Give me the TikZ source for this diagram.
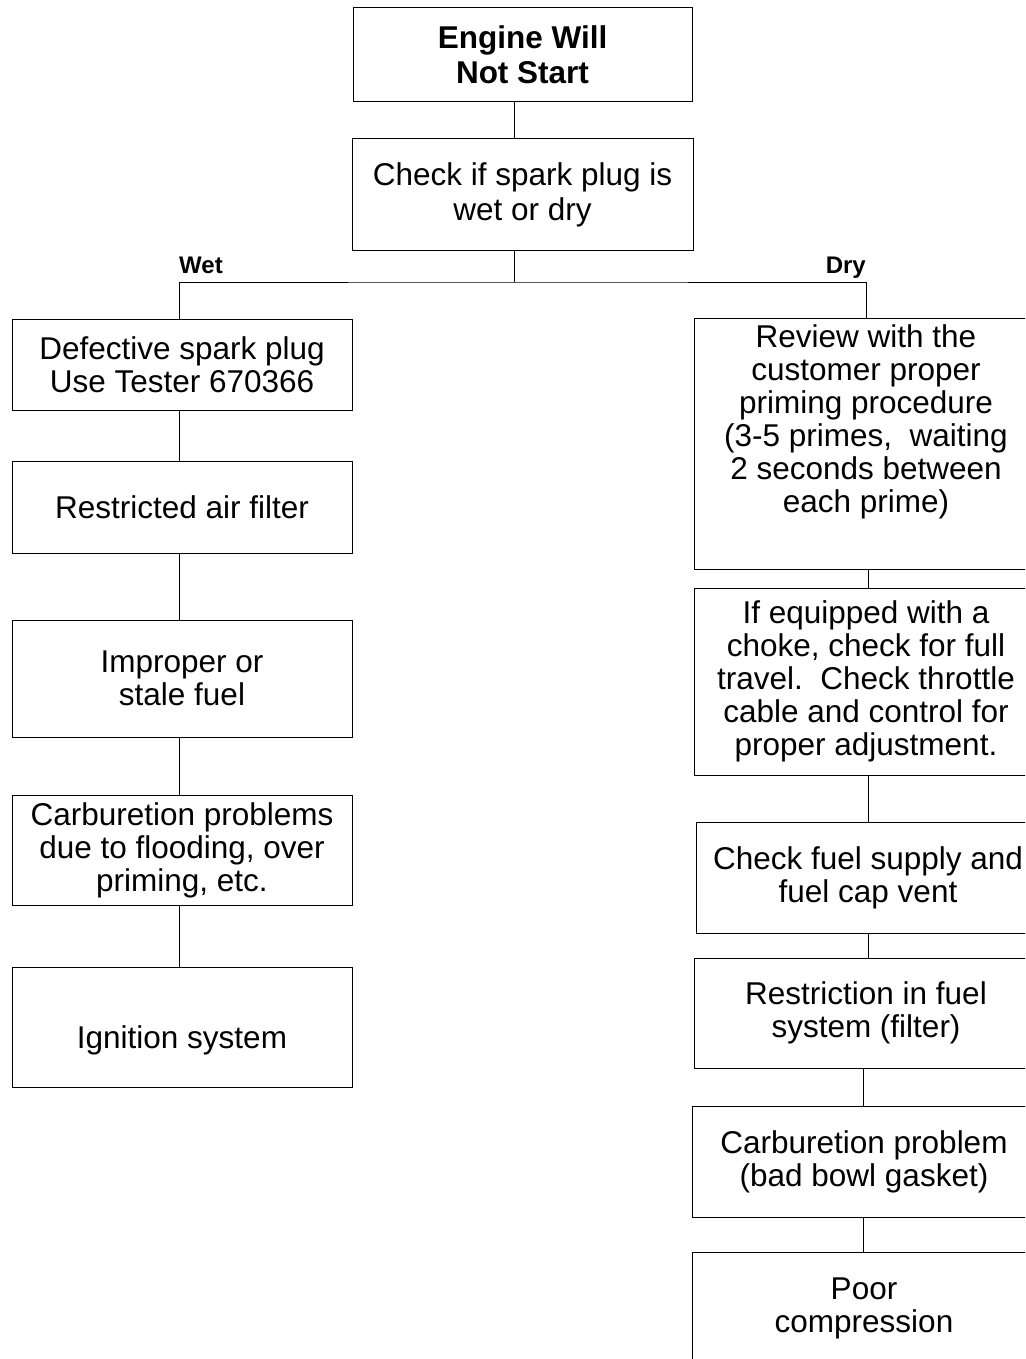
\documentclass[tikz,border=0pt]{standalone}
\usepackage{fontspec}
\setmainfont{Liberation Sans}
\tikzset{
  bx/.style={draw,line width=1pt,inner sep=0pt,align=center,minimum width=#1,
    font=\fontsize{31.5}{33}\selectfont},
  bx/.default=340pt,
  lnk/.style={line width=1pt},
  tag/.style={inner sep=0pt,font=\fontsize{24}{26}\selectfont\bfseries},
}
\begin{document}
\begin{tikzpicture}[x=1pt,y=-1pt]
\useasboundingbox (0,0) rectangle (1025,1359);
\clip (0,0) rectangle (1025,1359);
% top of the tree
\node[bx=339pt,minimum height=94pt,font=\fontsize{31.5}{35}\selectfont\bfseries] (eng) at (522.5,55) {Engine Will\\Not Start};
\node[bx=341pt,minimum height=111pt,font=\fontsize{31.5}{35}\selectfont] (chk) at (522.5,194.5) {Check if spark plug is\\wet or dry};
% wet side
\node[bx,minimum height=91pt]  (w1) at (182,364.5) {Defective spark plug\\Use Tester 670366};
\node[bx,minimum height=92pt]  (w2) at (182,507)   {Restricted air filter};
\node[bx,minimum height=117pt] (w3) at (182,678.5) {Improper or\\stale fuel};
\node[bx,minimum height=110pt] (w4) at (182,850)   {Carburetion problems\\due to flooding, over\\priming, etc.};
\node[bx,minimum height=120pt] (w5) at (182,1027)  {\rule{0pt}{50pt}Ignition system};
% dry side
\node[bx=344pt,minimum height=251pt] (d1) at (866,443.5) {Review with the\\customer proper\\priming procedure\\(3-5 primes,\ \ waiting\\2 seconds between\\each prime)\\[16pt]\mbox{}};
\node[bx=344pt,minimum height=187pt] (d2) at (866,681.5) {If equipped with a\\choke, check for full\\travel.\ \ Check throttle\\cable and control for\\proper adjustment.};
\node[bx=344pt,minimum height=111pt] (d3) at (868,877.5) {Check fuel supply and\\fuel cap vent};
\node[bx=344pt,minimum height=110pt] (d4) at (866,1013)  {Restriction in fuel\\system (filter)};
\node[bx=344pt,minimum height=111pt] (d5) at (864,1161.5) {Carburetion problem\\(bad bowl gasket)};
\node[bx=344pt,minimum height=112pt] (d6) at (864,1308)  {Poor\\compression};
% branch
\coordinate (br) at (514,282);
\node[tag,anchor=base west] (wet) at (179,273) {Wet};
\node[tag,anchor=base east] (dry) at (866,273) {Dry};
\draw[lnk] ([xshift=-8pt]eng.south) -- ([xshift=-8pt]chk.north);
\draw[lnk] (chk.south -| br) -- (br);
\draw[lnk] ([xshift=-3pt]w1.north) |- (br) -| (d1.north);
\draw[lnk] ([xshift=-3pt]w1.south) -- ([xshift=-3pt]w2.north); \draw[lnk] ([xshift=-3pt]w2.south) -- ([xshift=-3pt]w3.north);
\draw[lnk] ([xshift=-3pt]w3.south) -- ([xshift=-3pt]w4.north); \draw[lnk] ([xshift=-3pt]w4.south) -- ([xshift=-3pt]w5.north);
\draw[lnk] ([xshift=2pt]d1.south) -- ([xshift=2pt]d2.north); \draw[lnk] ([xshift=2pt]d2.south) -- (d3.north);
\draw[lnk] (d3.south) -- ([xshift=2pt]d4.north); \draw[lnk] ([xshift=-3pt]d4.south) -- ([xshift=-1pt]d5.north);
\draw[lnk] ([xshift=-1pt]d5.south) -- ([xshift=-1pt]d6.north);
\end{tikzpicture}
\end{document}
